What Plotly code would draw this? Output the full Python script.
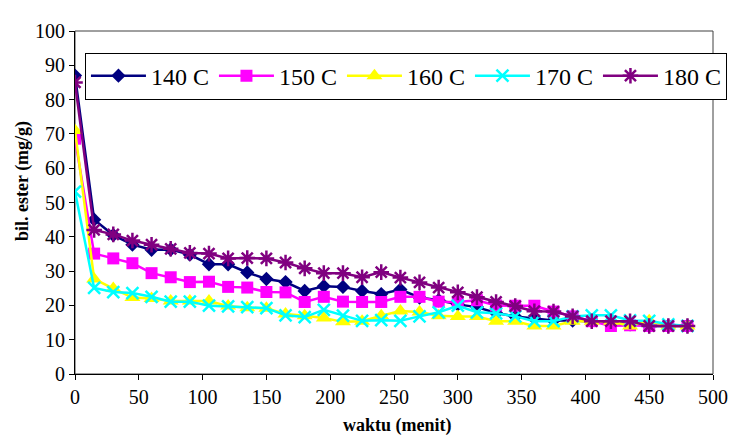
import plotly.graph_objects as go

waktu = list(range(0, 481, 15))

s140 = [87, 45, 40.5, 37.7, 36.2, 36.3, 34.8, 32, 32, 29.6, 27.7, 26.8, 24.2, 25.6, 25.4, 24.2, 23.3,
        24.6, 22.3, 21.5, 20.3, 19.5, 17.8, 16.8, 16.2, 15.6, 15.6, 15.4, 15, 14.5, 14, 14, 14]
s150 = [68.6, 35.1, 33.7, 32.3, 29.4, 28.2, 26.8, 26.9, 25.4, 25.2, 23.9, 23.8, 21, 22.5, 21.1, 21, 21,
        22.5, 22.5, 21.1, 21, 21.5, 20, 19.9, 19.9, 18.2, 16.8, 15.4, 14, 14.2, 14, 14, 14]
s160 = [71, 27.7, 24.9, 22.3, 22, 21.3, 21.3, 21.3, 19.8, 19.3, 19.2, 17.5, 17, 16.3, 15.2, 15.4, 17,
        18.4, 18.1, 17, 16.8, 16.8, 15.4, 15.4, 14, 14, 15.4, 15.4, 15.4, 14, 15.5, 14, 14]
s170 = [53.2, 25.1, 23.9, 23.6, 22.5, 21.1, 21.1, 19.9, 19.7, 19.5, 19.2, 17.1, 16.6, 18.7, 17, 15.5, 15.7,
        15.5, 16.8, 18, 19.9, 18, 17.7, 16.8, 15.4, 15.4, 16.8, 17.1, 17.1, 15.6, 15.5, 14.5, 14]
s180 = [85, 42, 40.7, 38.9, 37.7, 36.5, 35.3, 35.1, 33.7, 33.8, 33.7, 32.5, 30.8, 29.4, 29.4, 28.2, 29.7,
        28.1, 26.7, 25.2, 23.8, 22.4, 21, 19.8, 18.3, 18.2, 16.8, 15.4, 15.4, 15.4, 14, 14, 14]

names = ["140 C", "150 C", "160 C", "170 C", "180 C"]
x_ticks = list(range(0, 501, 50))
y_ticks = list(range(0, 101, 10))

series = [s140, s150, s160, s170, s180]
colors = ["#000080", "#FF00FF", "#FFFF00", "#00FFFF", "#800080"]
symbols = ["diamond", "square", "triangle-up", "x-thin-open", "asterisk-open"]
sizes = [11, 12, 14, 12, 13]

serif = "Liberation Serif, Times New Roman, serif"

fig = go.Figure()
for name, ys, c, sym, sz in zip(names, series, colors, symbols, sizes):
    marker = dict(symbol=sym, size=sz, color=c)
    if sym.endswith("open"):
        marker["line"] = dict(color=c, width=2.5)
    else:
        marker["line"] = dict(width=0)
    fig.add_trace(go.Scatter(x=waktu, y=ys, name=name, mode="lines+markers",
                             line=dict(color=c, width=2.5), marker=marker))

fig.update_layout(
    width=732, height=430,
    margin=dict(l=67, r=26, t=15, b=64),
    paper_bgcolor="white", plot_bgcolor="white",
    font=dict(family=serif, color="black", size=20),
    showlegend=True,
    legend=dict(orientation="h", x=0.0156, xanchor="left", y=0.937, yanchor="top",
                bgcolor="white", bordercolor="black", borderwidth=1,
                font=dict(family=serif, size=24, color="black"),
                entrywidth=58, entrywidthmode="pixels", itemwidth=55,
                tracegroupgap=0),
    xaxis=dict(range=[0, 500], tickvals=x_ticks, ticktext=[str(v) for v in x_ticks],
               ticks="outside", ticklen=5, tickcolor="black", showline=True,
               linecolor="black", linewidth=1.2, showgrid=False, zeroline=False,
               tickfont=dict(family=serif, size=20, color="black")),
    yaxis=dict(range=[0, 100], tickvals=y_ticks, ticktext=[str(v) for v in y_ticks],
               ticks="outside", ticklen=5, tickcolor="black", showline=True,
               linecolor="black", linewidth=1.2, showgrid=False, zeroline=False,
               tickfont=dict(family=serif, size=20, color="black")),
    shapes=[dict(type="rect", xref="paper", yref="paper", x0=0, x1=1, y0=0, y1=1,
                 line=dict(color="#404040", width=1), layer="below")],
    annotations=[
        dict(text="<b>waktu (menit)</b>", xref="paper", yref="paper", x=0.5055, y=-0.15,
             xanchor="center", yanchor="middle", showarrow=False,
             font=dict(family=serif, size=18, color="black")),
        dict(text="<b>bil. ester (mg/g)</b>", xref="paper", yref="paper", x=-0.0834, y=0.562,
             xanchor="center", yanchor="middle", showarrow=False, textangle=-90,
             font=dict(family=serif, size=18, color="black")),
    ],
)

fig.write_html("out.html")
